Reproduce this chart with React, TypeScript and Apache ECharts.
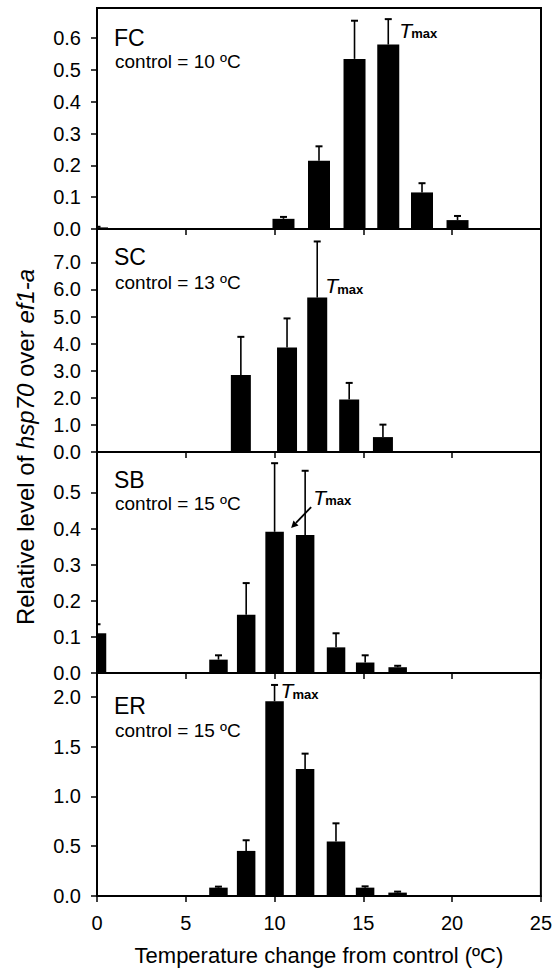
import React, { useEffect, useRef } from "react";
import * as echarts from "echarts";

// ---- data ----
const panelNames = ["FC", "SC", "SB", "ER"];
const controlTemps = ["control = 10 ºC", "control = 13 ºC", "control = 15 ºC", "control = 15 ºC"];

const fcX = [0, 10.5, 12.5, 14.5, 16.4, 18.3, 20.3];
const fcMean = [0.005, 0.032, 0.215, 0.535, 0.58, 0.115, 0.028];
const fcSd = [0.002, 0.006, 0.045, 0.12, 0.08, 0.029, 0.013];

const scX = [8.1, 10.7, 12.4, 14.2, 16.1];
const scMean = [2.84, 3.86, 5.7, 1.94, 0.55];
const scSd = [1.41, 1.07, 2.07, 0.61, 0.46];

const sbX = [0, 6.84, 8.4, 10.0, 11.72, 13.46, 15.1, 16.93];
const sbMean = [0.11, 0.037, 0.161, 0.391, 0.382, 0.071, 0.029, 0.016];
const sbSd = [0.025, 0.012, 0.088, 0.19, 0.178, 0.039, 0.02, 0.004];

const erX = [6.84, 8.4, 10.0, 11.72, 13.46, 15.1, 16.93];
const erMean = [0.084, 0.453, 1.956, 1.275, 0.547, 0.084, 0.034];
const erSd = [0.01, 0.107, 0.164, 0.155, 0.183, 0.013, 0.01];

const fcTicks = [0, 0.1, 0.2, 0.3, 0.4, 0.5, 0.6];
const scTicks = [0, 1, 2, 3, 4, 5, 6, 7];
const sbTicks = [0, 0.1, 0.2, 0.3, 0.4, 0.5];
const erTicks = [0, 0.5, 1, 1.5, 2];
const xTicks = [0, 5, 10, 15, 20, 25];

const yMax = [0.695, 8.23, 0.612, 2.24];
const tmaxIndex = [4, 2, 4, 2];

const xTitle = "Temperature change from control (ºC)";

// ---- layout / style ----
const FONT = "Liberation Sans, Arial, sans-serif";
const gridTops = [8, 229, 452, 673];
const gridHeights = [221, 223, 221, 223];
const GRID_LEFT = 97;
const GRID_W = 444;
const barWidths = [22, 20, 18.5, 18.5];
const labelOffsets = [
  [30, 54],
  [28, 54],
  [28, 52],
  [33, 58],
];
// Tmax annotation: anchor ('err' | 'bar'), dx, dy, arrow
const tmaxStyle = [
  { anchor: "err", dx: 11, dy: 11, arrow: false },
  { anchor: "bar", dx: 8, dy: -12, arrow: false },
  { anchor: "bar", dx: 8, dy: -38, arrow: true },
  { anchor: "err", dx: 6, dy: 6, arrow: false },
];

const panels = [
  { x: fcX, mean: fcMean, sd: fcSd, ticks: fcTicks },
  { x: scX, mean: scMean, sd: scSd, ticks: scTicks },
  { x: sbX, mean: sbMean, sd: sbSd, ticks: sbTicks },
  { x: erX, mean: erMean, sd: erSd, ticks: erTicks },
];

function makeRenderItem(p: number) {
  return (params: any, api: any) => {
    const x = api.value(0);
    const v = api.value(1);
    const sd = api.value(2);
    const base = api.coord([x, 0]);
    const top = api.coord([x, v]);
    const et = api.coord([x, v + sd]);
    const w = barWidths[p];
    const children: any[] = [
      {
        type: "rect",
        shape: { x: base[0] - w / 2, y: top[1], width: w, height: base[1] - top[1] },
        style: { fill: "#000" },
      },
      {
        type: "line",
        shape: { x1: base[0], y1: top[1], x2: base[0], y2: et[1] },
        style: { stroke: "#000", lineWidth: 1.6 },
      },
      {
        type: "line",
        shape: { x1: base[0] - 3.5, y1: et[1], x2: base[0] + 3.5, y2: et[1] },
        style: { stroke: "#000", lineWidth: 2 },
      },
    ];
    if (params.dataIndex === tmaxIndex[p]) {
      const s = tmaxStyle[p];
      const ay = s.anchor === "err" ? et[1] : top[1];
      const tx = base[0] + s.dx;
      const ty = ay + s.dy;
      children.push({
        type: "text",
        x: tx,
        y: ty,
        style: {
          text: "T",
          fontSize: 21,
          fontStyle: "italic",
          fontFamily: FONT,
          fill: "#000",
          align: "left",
          verticalAlign: "middle",
        },
      });
      children.push({
        type: "text",
        x: tx + 12,
        y: ty + 10,
        style: {
          text: "max",
          fontSize: 13,
          fontWeight: "bold",
          fontFamily: FONT,
          fill: "#000",
          align: "left",
          verticalAlign: "bottom",
        },
      });
      if (s.arrow) {
        const x1 = base[0] + 6;
        const y1 = top[1] - 28;
        const x2 = base[0] - 14;
        const y2 = top[1] - 7;
        const ang = Math.atan2(y2 - y1, x2 - x1);
        const hl = 7;
        const hw = 3.5;
        const bx = x2 - hl * Math.cos(ang);
        const by = y2 - hl * Math.sin(ang);
        children.push({
          type: "line",
          shape: { x1, y1, x2: bx, y2: by },
          style: { stroke: "#000", lineWidth: 1.8 },
        });
        children.push({
          type: "polygon",
          shape: {
            points: [
              [x2, y2],
              [bx - hw * Math.sin(ang), by + hw * Math.cos(ang)],
              [bx + hw * Math.sin(ang), by - hw * Math.cos(ang)],
            ],
          },
          style: { fill: "#000" },
        });
      }
    }
    return { type: "group", children };
  };
}

export default function App() {
  const ref = useRef<HTMLDivElement>(null);
  useEffect(() => {
    if (!ref.current) return;
    const chart = echarts.init(ref.current, null, { renderer: "svg" });

    const grids = panels.map((_, i) => ({
      left: GRID_LEFT,
      width: GRID_W,
      top: gridTops[i],
      height: gridHeights[i],
      show: true,
      borderColor: "#000",
      borderWidth: 2,
      backgroundColor: "transparent",
      containLabel: false,
    }));

    const xAxes = panels.map((_, i) => ({
      type: "value",
      gridIndex: i,
      min: 0,
      max: 25,
      interval: 5,
      axisLine: { show: true, onZero: false, lineStyle: { color: "#000", width: 2 } },
      axisTick: { show: true, inside: false, length: 6, lineStyle: { color: "#000", width: 1.5 } },
      axisLabel: {
        show: i === 3,
        color: "#000",
        fontSize: 20,
        fontFamily: FONT,
        margin: 17,
        customValues: xTicks,
      },
      splitLine: { show: false },
      name: i === 3 ? xTitle : "",
      nameLocation: "middle",
      nameGap: 48,
      nameTextStyle: { color: "#000", fontSize: 22, fontFamily: FONT },
    }));

    const yAxes = panels.map((p, i) => ({
      type: "value",
      gridIndex: i,
      min: 0,
      max: yMax[i],
      axisLine: { show: true, lineStyle: { color: "#000", width: 2 } },
      axisTick: {
        show: true,
        inside: false,
        length: 6,
        lineStyle: { color: "#000", width: 1.5 },
        customValues: p.ticks,
      },
      axisLabel: {
        color: "#000",
        fontSize: 20,
        fontFamily: FONT,
        margin: 16,
        customValues: p.ticks,
        formatter: (v: number) => v.toFixed(1),
      },
      splitLine: { show: false },
    }));

    const series = panels.map((p, i) => ({
      type: "custom",
      xAxisIndex: i,
      yAxisIndex: i,
      clip: true,
      data: p.x.map((x, j) => [x, p.mean[j], p.sd[j]]),
      renderItem: makeRenderItem(i),
    }));

    const graphics: any[] = [];
    panels.forEach((_, i) => {
      graphics.push({
        type: "text",
        left: 114,
        top: gridTops[i] + labelOffsets[i][0] - 12,
        style: { text: panelNames[i], fontSize: 23, fontFamily: FONT, fill: "#000" },
      });
      graphics.push({
        type: "text",
        left: 115,
        top: gridTops[i] + labelOffsets[i][1] - 10,
        style: { text: controlTemps[i], fontSize: 19, fontFamily: FONT, fill: "#000" },
      });
    });
    graphics.push({
      type: "text",
      x: 25,
      y: 447,
      rotation: Math.PI / 2,
      style: {
        text: "Relative level of {i|hsp70} over {i|ef1-a}",
        fontSize: 24,
        fontFamily: FONT,
        fill: "#000",
        align: "center",
        verticalAlign: "middle",
        rich: { i: { fontStyle: "italic", fontSize: 24, fontFamily: FONT } },
      },
    });

    chart.setOption({
      animation: false,
      backgroundColor: "#fff",
      grid: grids,
      xAxis: xAxes,
      yAxis: yAxes,
      series,
      graphic: graphics,
    });
    return () => chart.dispose();
  }, []);
  return (
    <div
      ref={ref}
      style={{ position: "fixed", left: 0, top: 0, width: 555, height: 973, background: "#fff" }}
    />
  );
}
